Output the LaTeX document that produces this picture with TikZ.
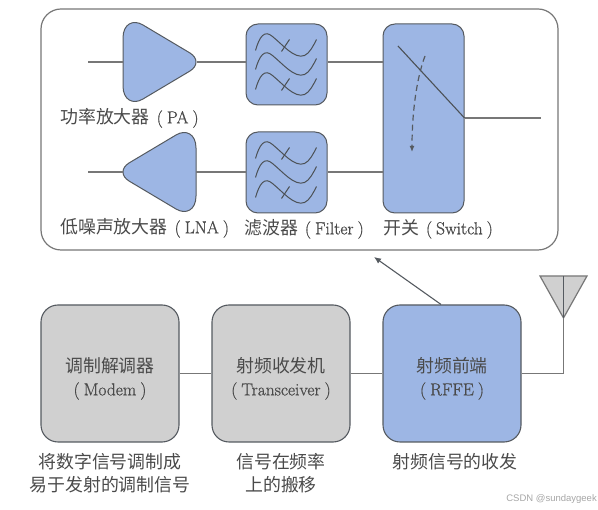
\documentclass[tikz,border=0pt]{standalone}
\usepackage{fontspec}
\usetikzlibrary{arrows.meta}
\newfontfamily\zhfont{Noto Sans CJK SC}
\newfontfamily\wmfont{Liberation Sans}
\newfontfamily\latfont[FakeBold=0.8]{Latin Modern Roman}
\newcommand{\zh}[1]{{\zhfont\fontsize{17.9}{23}\selectfont #1}}
\newcommand{\la}[1]{{\latfont\fontsize{17.4}{23}\selectfont (\hspace{4pt}#1\hspace{4pt})}}
\definecolor{bluefill}{HTML}{9DB6E4}
\definecolor{grayfill}{HTML}{D0D0D0}
\definecolor{edgec}{HTML}{555A60}
\definecolor{wirec}{HTML}{777777}
\definecolor{txt}{HTML}{4A4A4A}
\tikzset{
  x=1pt,y=-1pt,
  wire/.style={draw=wirec,line width=1.3pt},
  blueblock/.style={draw=edgec,line width=1pt,fill=bluefill,rounded corners=12pt,minimum width=81pt,inner sep=0pt},
  sysblock/.style={draw=edgec,line width=1.1pt,rounded corners=17pt,minimum width=138pt,minimum height=137pt,inner sep=0pt},
  lab/.style={text=txt,inner sep=0pt,align=center,font=\fontsize{16}{23}\selectfont},
  wavec/.style={draw=edgec!90!black,line width=1pt},
  ampshape/.pic={
    \draw[draw=edgec,line width=1pt,fill=bluefill] (0,-24) .. controls (0,-38) and (10,-43) .. (20,-37)
      -- (67,-9) .. controls (75,-4) and (75,4) .. (67,9)
      -- (20,37) .. controls (10,43) and (0,38) .. (0,24) -- cycle;
  },
  waves/.pic={
    \foreach \d in {0,19,39}{
      \draw[wavec] (-31,{-12+\d-2}) .. controls (-27,{-26+\d-2}) and (-22,{-33+\d-2}) .. (-14,{-26+\d-2})
        .. controls (-4,{-18+\d-2}) and (8,{-3+\d-2}) .. (18,{-7+\d-2})
        .. controls (23,{-9+\d-2}) and (27,{-17+\d-2}) .. (30,{-23+\d-2});
    }
    \draw[wavec] (-5,-13) -- (3,-25);
    \draw[wavec] (-5,26) -- (3,14);
  }
}
\begin{document}
\begin{tikzpicture}
\useasboundingbox (0,0) rectangle (598,510);
% panel
\node[draw=wirec,line width=1.2pt,fill=white,rounded corners=20pt,minimum width=517pt,minimum height=241pt,inner sep=0pt] (panel) at (299.5,129.5) {};
% amplifiers
\pic at (123,62) {ampshape};
\pic[xscale=-1] at (196,172) {ampshape};
\coordinate (pain) at (88,62);
\coordinate (paleft) at (123,62);
\coordinate (paright) at (197,62);
\coordinate (lnaout) at (88,172);
\coordinate (lnaleft) at (123,172);
\coordinate (lnaright) at (196,172);
% blocks
\node[blueblock,minimum height=81pt] (f1) at (286.5,64.5) {};
\node[blueblock,minimum height=81pt] (f2) at (286.5,172.5) {};
\node[blueblock,minimum height=189pt] (sw) at (423.5,118.5) {};
\pic at (286.5,64.5) {waves};
\pic at (286.5,172.5) {waves};
% wires of the panel
\draw[wire] (pain) -- (paleft);
\draw[wire] (paright) -- (f1.west |- paright);
\draw[wire] (f1.east |- paright) -- (sw.west |- paright);
\draw[wire] (lnaout) -- (lnaleft);
\draw[wire] (lnaright) -- (f2.west |- lnaright);
\draw[wire] (f2.east |- lnaright) -- (sw.west |- lnaright);
\coordinate (swout) at (541,118);
\coordinate (swpole) at (398,46);
\draw[wavec,line width=1.1pt] (swpole) -- (sw.east |- swout);
\draw[wire] (sw.east |- swout) -- (swout);
\coordinate (dashs) at (425,56);
\coordinate (dashe) at (412,152);
\draw[edgec,line width=1.2pt,dash pattern=on 6pt off 4pt,-{Latex[length=6pt,width=5pt]}] (dashs) .. controls (416,80) and (412,115) .. (dashe);
% labels of the panel
\node[lab,anchor=west] (lpa) at (60,118) {\zh{功率放大器}\hspace{7pt}\la{PA}};
\node[lab,anchor=west] (llna) at (60,228) {\zh{低噪声放大器}\hspace{7pt}\la{LNA}};
\node[lab,anchor=west] (lf) at (244,229) {\zh{滤波器}\hspace{7pt}\la{Filter}};
\node[lab,anchor=west] (ls) at (383,229) {\zh{开关}\hspace{7pt}\la{Switch}};
% system blocks
\node[sysblock,fill=grayfill] (modem) at (110,373.5) {};
\node[sysblock,fill=grayfill] (trx) at (281,373.5) {};
\node[sysblock,fill=bluefill] (rffe) at (452,373.5) {};
\node[lab] (tm) at (110,378.5) {\zh{调制解调器}\\\la{Modem}};
\node[lab] (tt) at (281,378.5) {\zh{射频收发机}\\\la{Transceiver}};
\node[lab] (tr) at (452,378.5) {\zh{射频前端}\\\la{RFFE}};
\draw[wire] (modem.east) -- (trx.west);
\draw[wire] (trx.east) -- (rffe.west);
% antenna
\coordinate (anta) at (540,276);
\coordinate (antb) at (587,276);
\coordinate (antt) at (563.5,318);
\coordinate (anttop) at (563.5,276);
\draw[draw=wirec,line width=1.2pt,fill=grayfill] (anta) -- (antb) -- (antt) -- cycle;
\draw[draw=edgec,line width=1pt] (anttop) -- (antt);
\draw[wire] (rffe.east) -| (antt);
% arrow to the panel
\coordinate (zoomtip) at (374,257);
\draw[edgec,line width=1.1pt,-{Latex[length=7pt,width=6pt]}] (rffe.north -| 441,305) -- (zoomtip);
% descriptions
\node[lab] (d1) at (110,473.5) {\zh{将数字信号调制成}\\\zh{易于发射的调制信号}};
\node[lab] (d2) at (281,473.5) {\zh{信号在频率}\\\zh{上的搬移}};
\node[lab] (d3) at (455,462) {\zh{射频信号的收发}};
\node[anchor=east,inner sep=0pt,text=black!35,font=\wmfont\fontsize{9.5}{11}\selectfont] (wm) at (597,499) {CSDN @sundaygeek};
\end{tikzpicture}
\end{document}
